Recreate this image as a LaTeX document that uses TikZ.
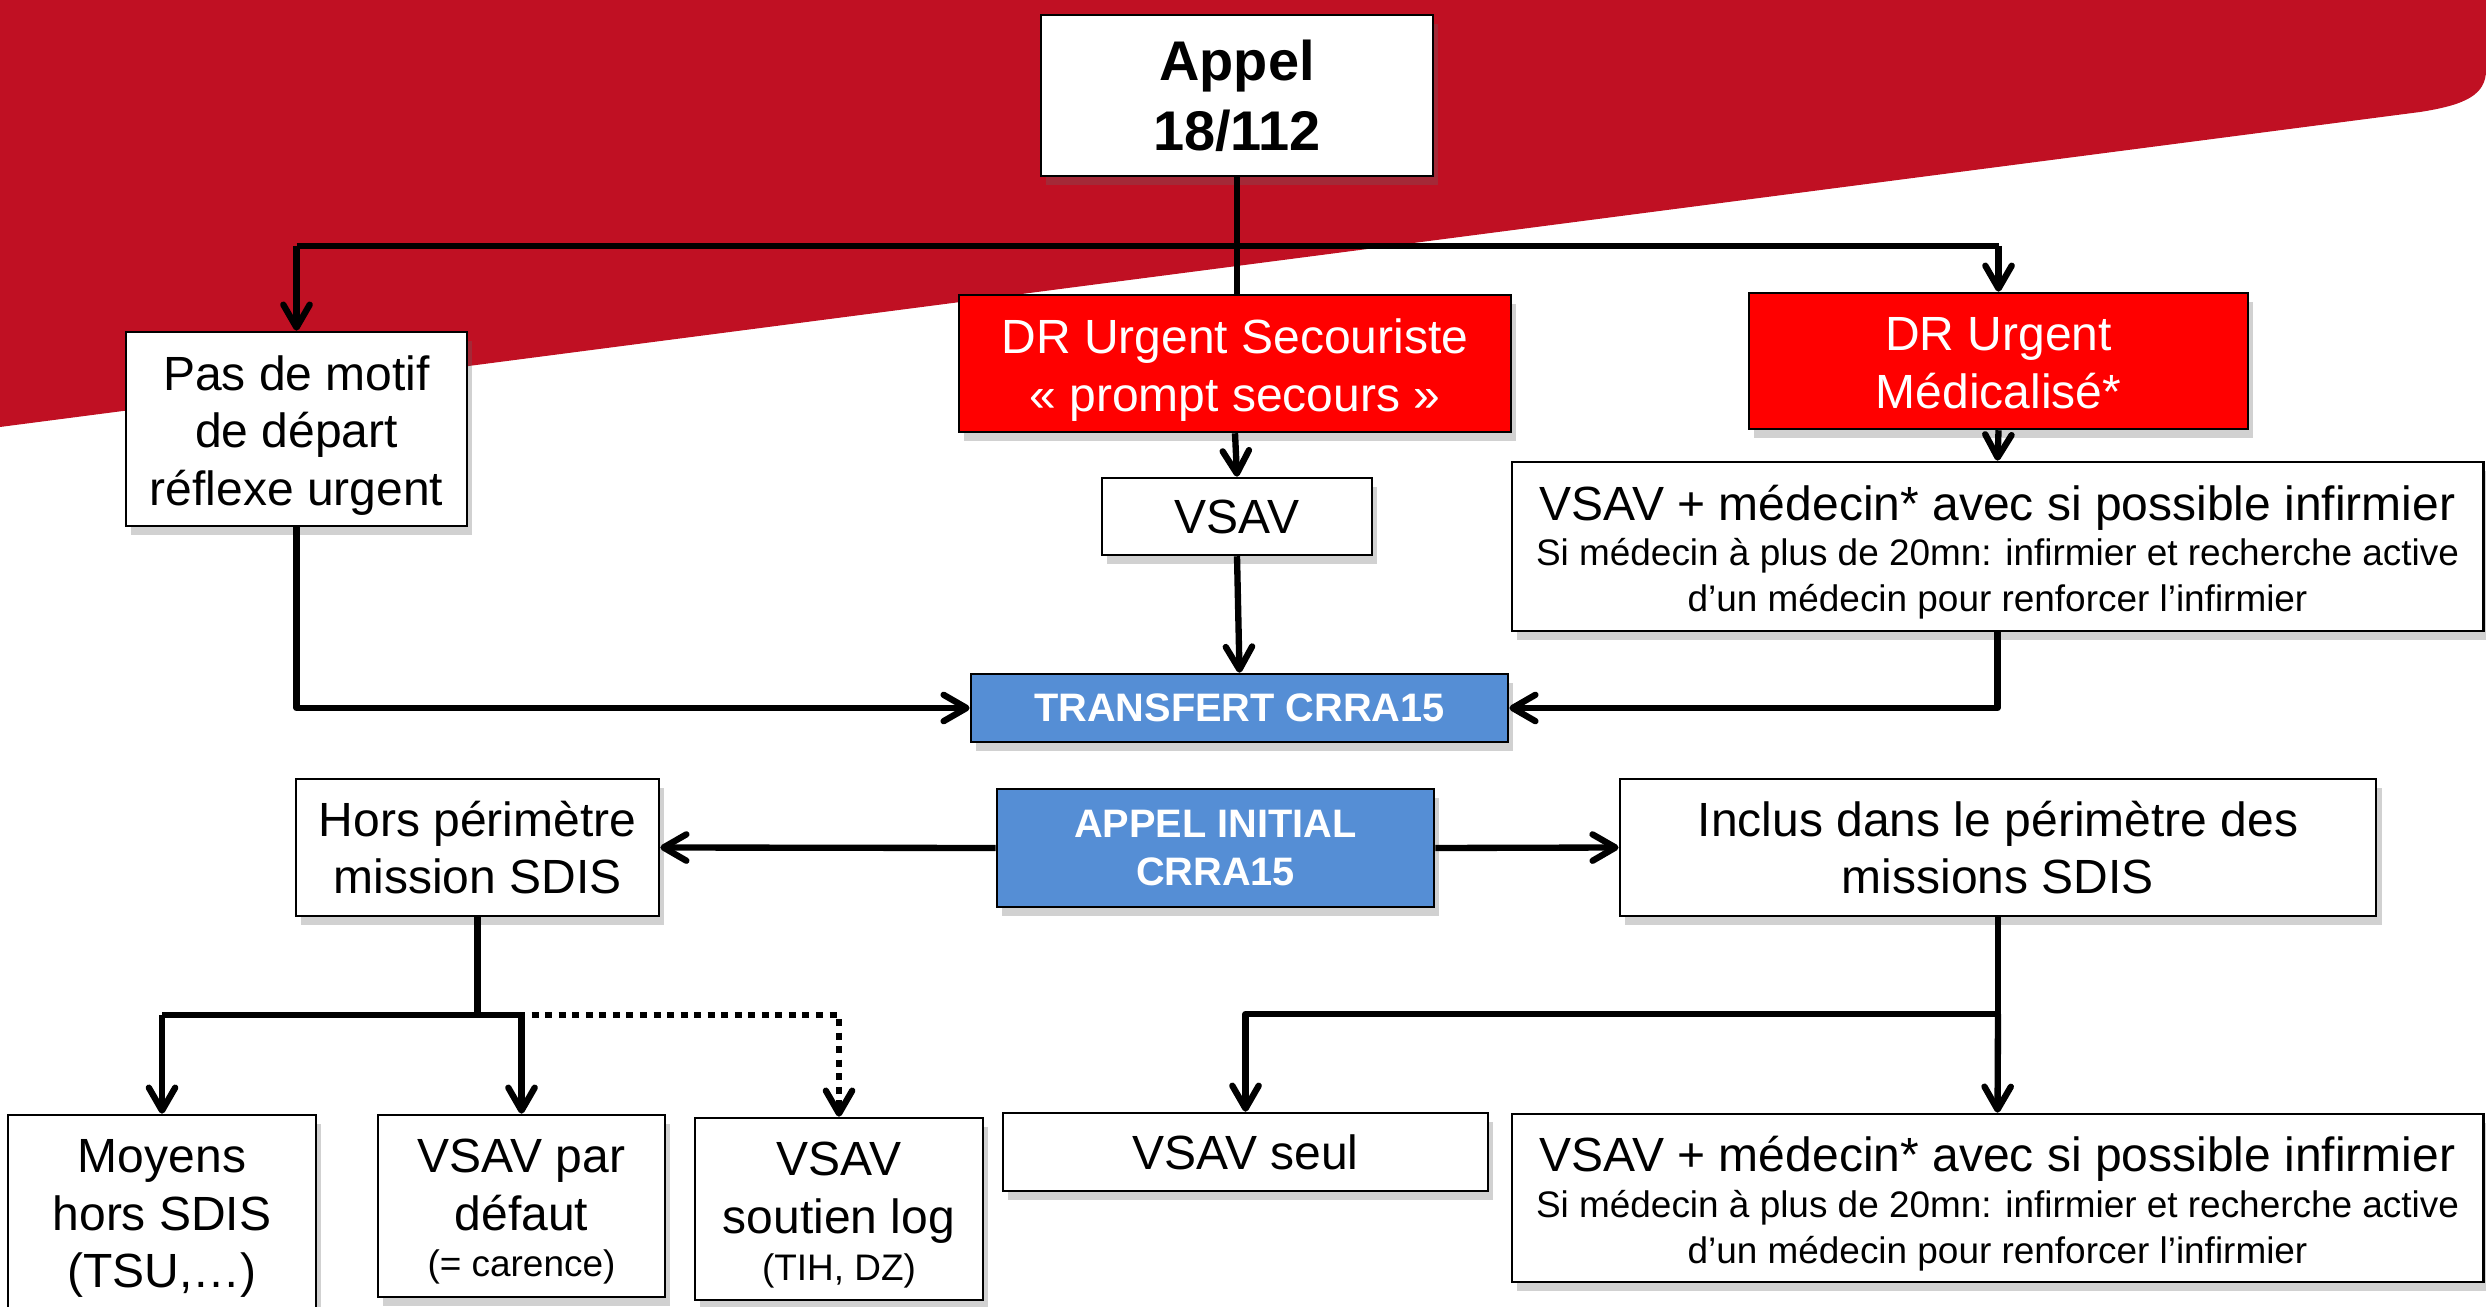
\documentclass[tikz,border=0pt]{standalone}
\usepackage{fontspec}
\setmainfont{Liberation Sans}
\usetikzlibrary{arrows.meta,shadows}
\definecolor{bgred}{HTML}{C01023}
\definecolor{boxred}{HTML}{FF0000}
\definecolor{boxblue}{HTML}{558ED5}
\newcommand\fsmain{\fontsize{13.65}{16.4}\selectfont}
\newcommand\fssmall{\fontsize{10.5}{12.8}\selectfont}
\newcommand\fstitle{\fontsize{15.9}{19.9}\selectfont\bfseries}
\newcommand\fsblue{\fontsize{11.3}{13.4}\selectfont\bfseries}
\tikzset{
  box/.style={draw=black, line width=0.7pt, fill=white, align=center, inner sep=2pt,
    font=\fsmain, drop shadow={shadow xshift=1.5pt, shadow yshift=-2.5pt, opacity=0.3, fill=black!60}},
  redbox/.style={box, fill=boxred, text=white},
  bluebox/.style={box, fill=boxblue, text=white, font=\fsblue},
  txt/.style={align=center, font=\fsmain, inner sep=0pt},
  ln/.style={line width=1.8pt, line join=round, draw=black},
  arr/.style={ln, -{Straight Barb[length=6.5pt,width=7.5pt,line cap=round,line join=round]}},
  dotarr/.style={arr, dash pattern=on 2pt off 1.85pt}
}
\begin{document}
\begin{tikzpicture}[x=0.01cm, y=-0.01cm]
\useasboundingbox (0,0) rectangle (2486,1307);
\clip (0,0) rectangle (2486,1307);
\fill[bgred] (0,0) -- (2486,0) -- (2486,70) .. controls (2486,95) and (2465,105) .. (2420,112) -- (0,427) -- cycle;

% boxes
\node[box, font=\fstitle, minimum width=3.92cm, minimum height=1.61cm] (appel) at (1237,95.5) {Appel\\18/112};
\node[box, minimum width=3.41cm, minimum height=1.94cm] (pas) at (296.5,429) {};
\node[redbox, minimum width=5.52cm, minimum height=1.37cm] (secour) at (1235,363.5) {};
\node[redbox, minimum width=4.99cm, minimum height=1.36cm] (medic) at (1998.5,361) {};
\node[box, minimum width=2.70cm, minimum height=0.77cm] (vsav) at (1237,516.5) {VSAV};
\node[box, minimum width=9.71cm, minimum height=1.69cm] (vsavmed) at (1997.5,546.5) {};
\node[bluebox, minimum width=5.37cm, minimum height=0.68cm] (transfert) at (1239.5,708) {TRANSFERT CRRA15};
\node[bluebox, minimum width=4.37cm, minimum height=1.18cm] (appelinit) at (1215.5,848) {APPEL INITIAL\\CRRA15};
\node[box, minimum width=3.63cm, minimum height=1.37cm] (hors) at (477.5,847.5) {Hors périmètre\\mission SDIS};
\node[box, minimum width=7.56cm, minimum height=1.37cm] (inclus) at (1998,847.5) {Inclus dans le périmètre des\\missions SDIS};
\node[box, minimum width=3.08cm, minimum height=2.15cm] (moyens) at (162,1222.5) {};
\node[box, minimum width=2.87cm, minimum height=1.82cm] (defaut) at (521.5,1206) {};
\node[box, minimum width=2.88cm, minimum height=1.82cm] (soutien) at (839,1209) {};
\node[box, minimum width=4.85cm, minimum height=0.78cm] (seul) at (1245.5,1152) {VSAV seul};
\node[box, minimum width=9.71cm, minimum height=1.68cm] (vsavmed2) at (1997.5,1198) {};

% texts placed inside boxes
\node[txt, yshift=-1.8pt] (pas-t) at (pas) {Pas de motif\\de départ\\réflexe urgent};
\node[txt, text=white, yshift=-1.8pt] (secour-t) at (secour) {DR Urgent Secouriste\\« prompt secours »};
\node[txt, text=white, yshift=-0.7pt] (medic-t) at (medic) {DR Urgent\\Médicalisé*};
\node[txt, yshift=-1.6pt] (vsavmed-t) at (vsavmed) {VSAV + médecin* avec si possible infirmier\\[-3.4pt]{\fssmall Si médecin à plus de 20mn: infirmier et recherche active}\\[-3.4pt]{\fssmall d’un médecin pour renforcer l’infirmier}};
\node[txt, yshift=1.1pt] (moyens-t) at (moyens) {Moyens\\hors SDIS\\(TSU,…)};
\node[txt, yshift=-1.6pt] (defaut-t) at (defaut) {VSAV par\\défaut\\[-3.4pt]{\fssmall (= carence)}};
\node[txt, yshift=-1.8pt] (soutien-t) at (soutien) {VSAV\\soutien log\\[-2.9pt]{\fssmall (TIH, DZ)}};
\node[txt, yshift=-1.6pt] (vsavmed2-t) at (vsavmed2) {VSAV + médecin* avec si possible infirmier\\[-3.4pt]{\fssmall Si médecin à plus de 20mn: infirmier et recherche active}\\[-3.4pt]{\fssmall d’un médecin pour renforcer l’infirmier}};

% connectors
\coordinate (bar) at (1237,246);
\draw[ln] (appel.south) -- (appel.south |- secour.north);
\draw[ln] (pas.north |- bar) -- (medic.north |- bar);
\draw[arr] (pas.north |- bar) -- (pas.north);
\draw[arr] (medic.north |- bar) -- (medic.north);
\draw[arr] (secour.south) -- (vsav.north);
\draw[arr] (vsav.south) -- (transfert.north);
\draw[arr] (medic.south) -- (vsavmed.north);
\draw[arr] (pas.south) |- (transfert.west);
\draw[arr] (vsavmed.south) |- (transfert.east);
\draw[arr] (appelinit.west) -- (hors.east);
\draw[arr] (appelinit.east) -- (inclus.west);

\coordinate (hb) at (477.5,1015);
\draw[ln] (hors.south) -- (hb);
\draw[ln] (moyens.north |- hb) -- (defaut.north |- hb);
\draw[arr] (moyens.north |- hb) -- (moyens.north);
\draw[arr] (defaut.north |- hb) -- (defaut.north);
\draw[dotarr] (hb) -| (soutien.north);

\coordinate (ib) at (1998,1014);
\draw[ln] (inclus.south) -- (ib);
\draw[arr] (ib) -| (seul.north);
\draw[arr] (ib) -- (vsavmed2.north);
\end{tikzpicture}
\end{document}
